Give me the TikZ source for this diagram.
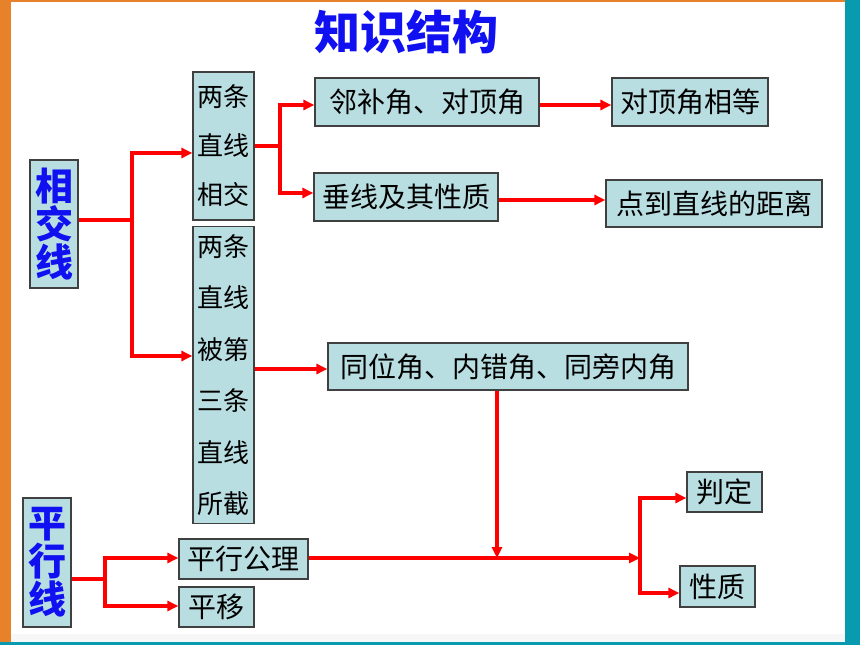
\documentclass[tikz,border=0pt]{standalone}
\usepackage{fontspec}
\newfontfamily\cjk{Noto Sans CJK SC}
\usetikzlibrary{arrows.meta}
\definecolor{boxfill}{RGB}{185,222,226}
\definecolor{boxline}{RGB}{64,64,64}
\definecolor{titleblue}{RGB}{16,16,240}
\definecolor{linkred}{RGB}{255,0,0}
\definecolor{sideorange}{RGB}{232,130,42}
\definecolor{sideteal}{RGB}{8,154,174}

\begin{document}
\begin{tikzpicture}[x=1pt,y=-1pt]

\tikzset{
  box/.style={draw=boxline, line width=1.2pt, fill=boxfill, inner sep=0pt,
    font=\cjk\fontsize{28}{28}\selectfont},
  tallbox/.style={box, align=center, minimum width=61pt,
    font=\cjk\fontsize{26}{#1}\selectfont},
  headbox/.style={box, align=center, minimum width=48pt, text=titleblue,
    font=\cjk\bfseries\fontsize{38}{38}\selectfont},
  title/.style={text=titleblue, font=\cjk\bfseries\fontsize{46}{46}\selectfont},
  wire/.style={draw=linkred, line width=3.2pt},
  link/.style={wire, -{Triangle[length=11pt,width=10pt]}}
}

\useasboundingbox (0,0) rectangle (860,645);
\fill[white] (0,0) rectangle (860,645);
\fill[gray!6] (11,634) rectangle (845,642);
\fill[sideorange] (0,0) rectangle (11,645);
\fill[sideorange] (0,0) rectangle (860,1.5);
\fill[sideteal] (845,0) rectangle (860,645);
\fill[sideteal] (0,642) rectangle (860,645);

\node[title] (ttl) at (406,32) {知识结构};

\node[headbox, minimum height=128pt] (xjx) at (54,224) {相\\交\\线};
\node[headbox, minimum height=129pt] (pxx) at (47,562.5) {平\\行\\线};

\node[tallbox=49, minimum height=148pt] (lt1) at (223.5,146) {两条\\直线\\相交};
\node[tallbox=51.5, minimum height=297pt] (lt2) at (223.5,375)
  {两条\\直线\\被第\\三条\\直线\\所截};

\node[box, minimum width=224pt, minimum height=48pt] (lbj) at (427,102) {邻补角、对顶角};
\node[box, minimum width=156pt, minimum height=48pt] (djx) at (690,102) {对顶角相等};
\node[box, minimum width=184pt, minimum height=48pt] (cx) at (406,197) {垂线及其性质};
\node[box, minimum width=216pt, minimum height=47pt] (dd) at (714,203.5) {点到直线的距离};
\node[box, minimum width=360pt, minimum height=47pt] (twj) at (508,366.5) {同位角、内错角、同旁内角};

\node[box, minimum width=129pt, minimum height=40pt] (gl) at (243.5,559) {平行公理};
\node[box, minimum width=75pt, minimum height=40pt] (py) at (216.5,607) {平移};
\node[box, minimum width=75pt, minimum height=40pt] (pd) at (724.5,492) {判定};
\node[box, minimum width=75pt, minimum height=41pt] (xz) at (717.5,586.5) {性质};

% 相交线
\coordinate (jx) at (132,220);
\draw[wire] (xjx.east |- jx) -- (jx);
\draw[link] (jx) |- ([yshift=-7pt]lt1.west);
\draw[link] (jx) |- ([yshift=19pt]lt2.west);

\coordinate (jl) at (280,146);
\draw[wire] (lt1.east) -- (jl);
\draw[link] (jl) |- ([yshift=-3pt]lbj.west);
\draw[link] (jl) |- ([yshift=4pt]cx.west);

\draw[link] ([yshift=-3pt]lbj.east) -- ([yshift=-3pt]djx.west);
\coordinate (cxr) at ([yshift=-3pt]cx.east);
\draw[link] (cxr) -- (cxr -| dd.west);

\coordinate (ltr) at ([yshift=6pt]lt2.east);
\draw[link] (ltr) -- (ltr -| twj.west);

% 平行线
\coordinate (jm) at (497,558);
\draw[link] (twj.south -| jm) -- (jm);

\coordinate (jp) at (105,579);
\draw[wire] (pxx.east |- jp) -- (jp);
\draw[link] (jp) |- ([yshift=1pt]gl.west);
\draw[link] (jp) |- ([yshift=1pt]py.west);

\coordinate (jr) at (640,558);
\draw[link] ([yshift=1pt]gl.east) -- (jr);
\draw[link] (jr) |- ([yshift=-6pt]pd.west);
\draw[link] (jr) |- ([yshift=-6.5pt]xz.west);

\end{tikzpicture}
\end{document}
